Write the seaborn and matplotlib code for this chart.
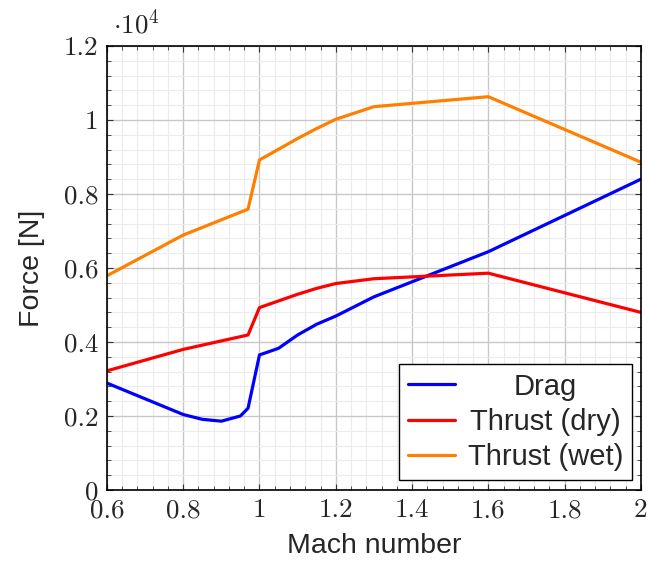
import matplotlib
matplotlib.use("Agg")
import matplotlib.pyplot as plt
import seaborn as sns
import pandas as pd
from matplotlib.ticker import MultipleLocator, FuncFormatter

# Data (Force in units of 1e4 N)
mach_drag = [0.6, 0.8, 0.85, 0.9, 0.95, 0.97, 1.0, 1.05, 1.1, 1.15, 1.2, 1.3, 1.6, 2.0]
drag = [0.289, 0.204, 0.191, 0.186, 0.200, 0.221, 0.365, 0.383, 0.419, 0.448, 0.470, 0.522, 0.644, 0.840]

mach_thrust = [0.6, 0.8, 0.97, 1.0, 1.1, 1.15, 1.2, 1.3, 1.6, 2.0]
thrust_dry = [0.322, 0.380, 0.419, 0.493, 0.529, 0.545, 0.558, 0.571, 0.586, 0.480]
thrust_wet = [0.579, 0.689, 0.759, 0.892, 0.950, 0.977, 1.002, 1.036, 1.063, 0.886]

labels = ["Drag", "Thrust (dry)", "Thrust (wet)"]
colors = ["#0000ff", "#ff0000", "#ff8000"]

df = pd.concat([
    pd.DataFrame({"Mach": mach_drag, "Force": drag, "series": labels[0]}),
    pd.DataFrame({"Mach": mach_thrust, "Force": thrust_dry, "series": labels[1]}),
    pd.DataFrame({"Mach": mach_thrust, "Force": thrust_wet, "series": labels[2]}),
], ignore_index=True)

sns.set_style("white")
plt.rcParams["font.family"] = ["Liberation Sans", "DejaVu Sans"]
plt.rcParams["mathtext.fontset"] = "cm"

fig = plt.figure(figsize=(6.48, 5.66), dpi=100)
ax = fig.add_axes([0.165, 0.1343, 0.824, 0.7844])

sns.lineplot(data=df, x="Mach", y="Force", hue="series", hue_order=labels,
             palette=colors, sort=False, estimator=None, linewidth=2.3, ax=ax)

ax.set_xlim(0.6, 2.0)
ax.set_ylim(0, 1.2)
ax.xaxis.set_major_locator(MultipleLocator(0.2))
ax.xaxis.set_minor_locator(MultipleLocator(0.04))
ax.yaxis.set_major_locator(MultipleLocator(0.2))
ax.yaxis.set_minor_locator(MultipleLocator(0.04))
fmt = FuncFormatter(lambda v, p: f"{round(v, 2):g}")
ax.xaxis.set_major_formatter(fmt)
ax.yaxis.set_major_formatter(fmt)

ax.grid(which="major", color="#c8c8c8", linewidth=1.0)
ax.grid(which="minor", color="#ececec", linewidth=0.8)
ax.set_axisbelow(True)

ax.tick_params(which="both", direction="in", top=True, right=True,
               bottom=True, left=True, color="#333333")
ax.tick_params(which="major", length=4.5, width=0.8)
ax.tick_params(which="minor", length=3.0, width=0.6)
for lab in ax.get_xticklabels() + ax.get_yticklabels():
    lab.set_fontfamily("cmr10")
    lab.set_fontsize(19.5)
ax.tick_params(axis="x", pad=6)
ax.tick_params(axis="y", pad=6)

for s in ax.spines.values():
    s.set_color("black")
    s.set_linewidth(1.2)

ax.set_xlabel("Mach number", fontsize=20.5, labelpad=8)
ax.set_ylabel("Force [N]", fontsize=20.5, labelpad=14)

ax.text(0.012, 1.015, r"$\cdot 10^4$", transform=ax.transAxes,
        fontsize=19.5, ha="left", va="bottom")

leg = ax.legend(loc="lower right", fontsize=21, frameon=True, fancybox=False,
                edgecolor="black", framealpha=1, handlelength=1.6,
                borderpad=0.3, labelspacing=0.25, handletextpad=0.45,
                borderaxespad=0, bbox_to_anchor=(0.983, 0.0225))
leg.get_frame().set_linewidth(1.0)
for line in leg.get_lines():
    line.set_linewidth(2.3)

# center legend labels
fig.canvas.draw()
r = fig.canvas.get_renderer()
texts = leg.get_texts()
widths = [t.get_window_extent(r).width for t in texts]
mw = max(widths)
for t, w in zip(texts, widths):
    t.set_x((mw - w) / 2)

fig.savefig("out.png", dpi=100)
